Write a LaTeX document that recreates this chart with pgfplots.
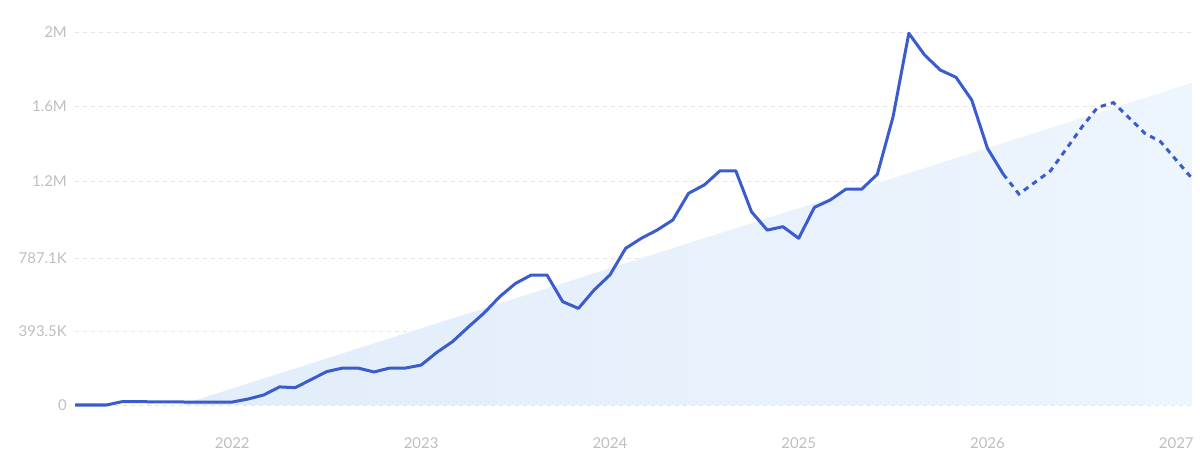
\documentclass[border=0pt]{standalone}
\usepackage{pgfplots}
\pgfplotsset{compat=1.18}
\usepackage{fontspec}
\setmainfont{Lato}

\definecolor{trendline}{RGB}{58,92,204}
\definecolor{fillleft}{RGB}{226,237,251}
\definecolor{fillright}{RGB}{237,245,253}
\definecolor{ticktext}{RGB}{190,190,190}
\definecolor{gridgray}{RGB}{228,228,228}

\begin{document}
\begin{tikzpicture}
\useasboundingbox (0,0) rectangle (1200bp,461bp);
\begin{axis}[
    at={(75bp,56bp)}, anchor=south west,
    scale only axis,
    width=1117bp, height=373bp,
    xmin=2, xmax=73,
    ymin=0, ymax=2000,
    axis line style={draw=none},
    tick style={draw=none},
    xtick={12,24,36,48,60,72},
    xticklabels={2022,2023,2024,2025,2026,2027},
    ytick={0,393.5,787.1,1200,1600,2000},
    yticklabels={0,393.5K,787.1K,1.2M,1.6M,2M},
    ymajorgrids=true,
    grid style={dash pattern=on 4bp off 4bp, color=gridgray, line width=0.8bp},
    tick label style={font=\fontsize{15}{18}\selectfont, text=ticktext},
    xticklabel style={anchor=center, yshift=-38bp},
    yticklabel style={anchor=east, inner sep=0pt, xshift=-8bp},
    /pgf/number format/assume math mode=true,
    clip=false,
]
% trend area
\addplot[draw=none, left color=fillleft, right color=fillright] coordinates {
    (8.7,0) (73,1727)
} \closedcycle;

% actual values (thousands)
\addplot[trendline, line width=3bp, line join=round] coordinates {
    (2,0) (3,0) (4,0) (5,18) (6,18) (7,17) (8,17) (9,16) (10,16) (11,16)
    (12,16) (13,32) (14,54) (15,97) (16,93) (17,136) (18,179) (19,198)
    (20,198) (21,177) (22,198) (23,198) (24,214) (25,282) (26,340)
    (27,418) (28,493) (29,581) (30,652) (31,697) (32,697) (33,554)
    (34,518) (35,617) (36,697) (37,840) (38,894) (39,938) (40,992)
    (41,1135) (42,1180) (43,1256) (44,1256) (45,1036) (46,938) (47,956)
    (48,894) (49,1060) (50,1099) (51,1157) (52,1157) (53,1237)
    (54,1546) (55,1993) (56,1877) (57,1796) (58,1757) (59,1635)
    (60,1376) (61,1238)
};

% forecast
\addplot[trendline, line width=3bp, dash pattern=on 5.5bp off 5bp] coordinates {
    (61,1238) (62,1131) (63,1193) (64,1255) (65,1372) (66,1490)
    (67,1596) (68,1621) (69,1540) (70,1457) (71,1412) (72,1313) (73,1215)
};
\end{axis}
\end{tikzpicture}
\end{document}
